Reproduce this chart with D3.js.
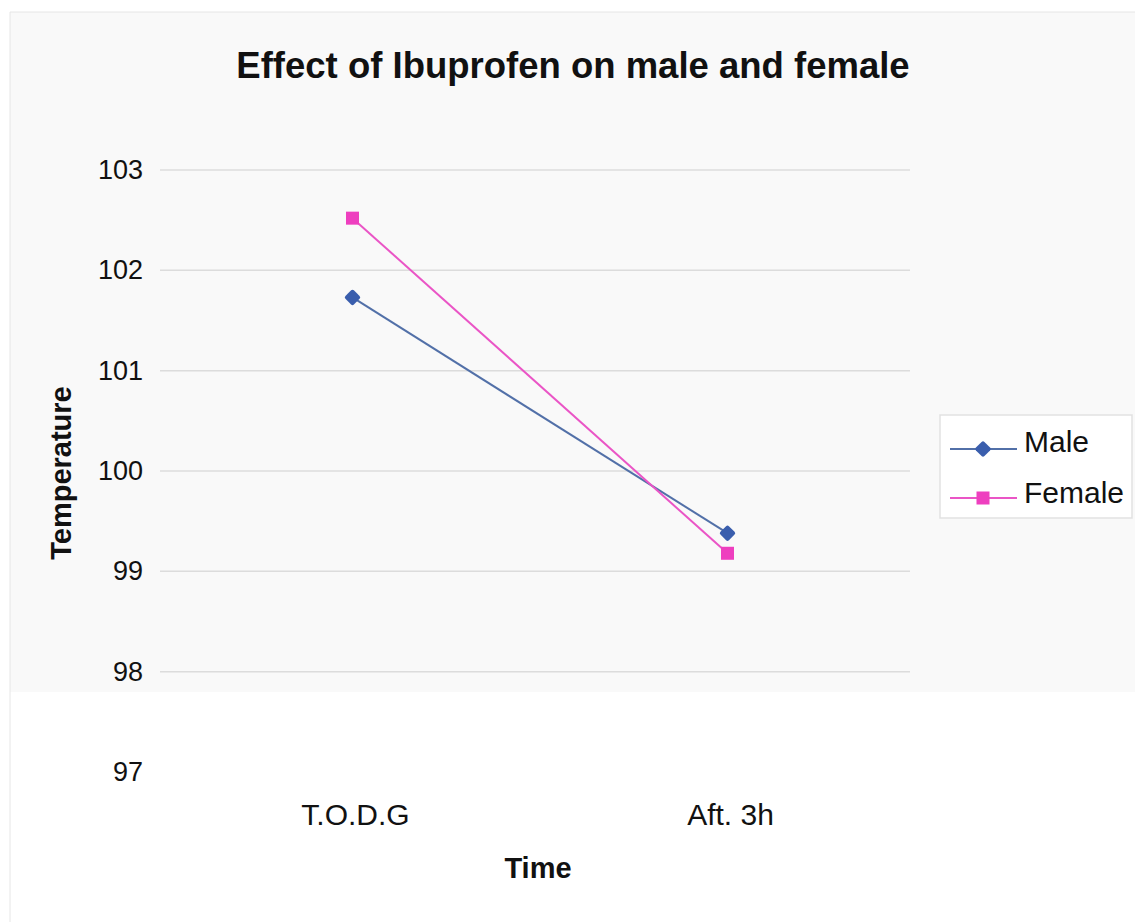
<!DOCTYPE html>
<html><head><meta charset="utf-8">
<script src="https://cdn.jsdelivr.net/npm/d3@7"></script>
<style>body{margin:0;background:#fff}svg{display:block}text{font-family:"Liberation Sans",Arial,sans-serif;fill:#111}</style>
</head><body><svg id="c" width="1135" height="922"></svg>
<script>
const categories = ["T.O.D.G", "Aft. 3h"];
const maleValues = [101.73, 99.38];
const femaleValues = [102.52, 99.18];
const seriesNames = ["Male", "Female"];
const yTicks = [97, 98, 99, 100, 101, 102, 103];
const gridTicks = [98, 99, 100, 101, 102, 103];
const colors = {Male: "#3a5ead", Female: "#ee3fbf"};
const lineColors = {Male: "#5270a8", Female: "#ea55c6"};

const svg = d3.select("#c");
svg.append("rect").attr("x", 10).attr("y", 12).attr("width", 1125).attr("height", 680).attr("fill", "#f9f9f9");
svg.append("line").attr("x1", 10).attr("x2", 10).attr("y1", 12).attr("y2", 922).attr("stroke", "#e6e6e6");
svg.append("line").attr("x1", 10).attr("x2", 1135).attr("y1", 12).attr("y2", 12).attr("stroke", "#e6e6e6");

const x = d3.scaleBand().domain(categories).range([165, 915]);
const y = d3.scaleLinear().domain([97, 103]).range([772, 170]);

svg.append("text").attr("x", 573).attr("y", 78).attr("text-anchor", "middle")
  .attr("font-size", 36.5).attr("font-weight", "bold").text("Effect of Ibuprofen on male and female");

const grid = svg.append("g");
grid.selectAll("line").data(gridTicks).join("line")
  .attr("x1", 160).attr("x2", 910).attr("y1", d => y(d)).attr("y2", d => y(d))
  .attr("stroke", "#dcdcdc").attr("stroke-width", 1.5);

const yAxis = svg.append("g").attr("transform", "translate(165,0)")
  .call(d3.axisLeft(y).tickValues(yTicks).tickSize(0).tickPadding(22).tickFormat(d3.format("d")));
yAxis.select(".domain").remove();
yAxis.selectAll("text").attr("font-size", 27).style("fill", "#111").style("font-family", '"Liberation Sans",Arial,sans-serif');

const xAxis = svg.append("g").attr("transform", "translate(0,803)")
  .call(d3.axisBottom(x).tickSize(0).tickPadding(0));
xAxis.select(".domain").remove();
xAxis.selectAll("text").attr("font-size", 30).attr("dy", "0.72em").style("fill", "#111").style("font-family", '"Liberation Sans",Arial,sans-serif');
xAxis.selectAll(".tick").attr("transform", d => `translate(${x(d) + x.bandwidth() / 2 + 3},0)`);

svg.append("text").attr("transform", "translate(71,473) rotate(-90)").attr("text-anchor", "middle")
  .attr("font-size", 29).attr("font-weight", "bold").text("Temperature");
svg.append("text").attr("x", 538).attr("y", 878).attr("text-anchor", "middle")
  .attr("font-size", 29).attr("font-weight", "bold").text("Time");

const data = {Male: maleValues, Female: femaleValues};
const cx = c => x(c) + x.bandwidth() / 2;
const line = d3.line().x((d, i) => cx(categories[i])).y(d => y(d));
const marker = (g, name) => {
  if (name === "Male") {
    g.append("rect").attr("x", -6).attr("y", -6).attr("width", 12).attr("height", 12)
      .attr("rx", 2).attr("fill", colors[name])
      .attr("transform", "rotate(45)");
  } else {
    g.append("rect").attr("x", -6.5).attr("y", -6.5).attr("width", 13).attr("height", 13)
      .attr("fill", colors[name]);
  }
};

seriesNames.forEach(name => {
  svg.append("path").datum(data[name]).attr("d", line).attr("fill", "none")
    .attr("stroke", lineColors[name]).attr("stroke-width", 2);
});
seriesNames.forEach(name => {
  svg.append("g").selectAll("g").data(data[name]).join("g")
    .attr("transform", (d, i) => `translate(${cx(categories[i])},${y(d)})`)
    .each(function() { marker(d3.select(this), name); });
});

const lg = svg.append("g");
lg.append("rect").attr("x", 940).attr("y", 415).attr("width", 192).attr("height", 103)
  .attr("fill", "#fff").attr("stroke", "#e2e2e2").attr("stroke-width", 1.5);
seriesNames.forEach((name, i) => {
  const cy = 449 + i * 49;
  lg.append("line").attr("x1", 950).attr("x2", 1017).attr("y1", cy).attr("y2", cy)
    .attr("stroke", lineColors[name]).attr("stroke-width", 2);
  const g = lg.append("g").attr("transform", `translate(983,${cy})`);
  marker(g, name);
  lg.append("text").attr("x", 1024).attr("y", cy + 3 + i * 2).attr("font-size", 30).text(name);
});
</script></body></html>
